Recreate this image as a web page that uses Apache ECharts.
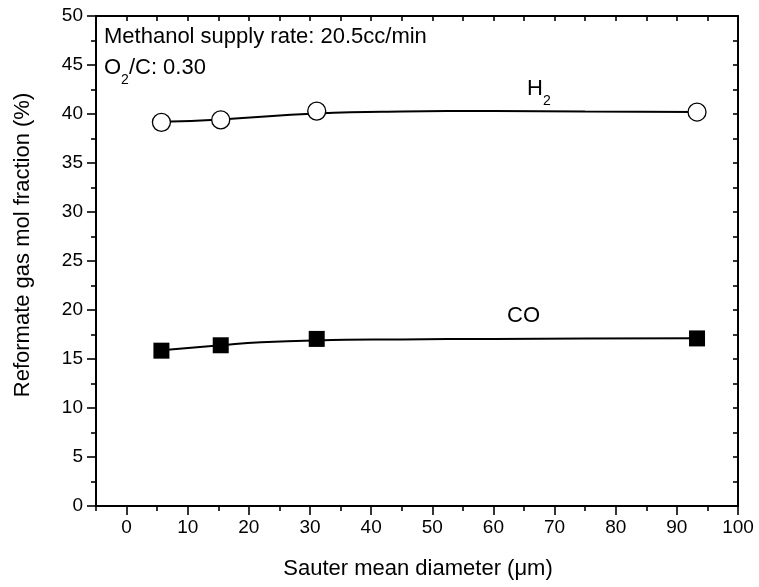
<!DOCTYPE html>
<html><head><meta charset="utf-8">
<script src="https://cdn.jsdelivr.net/npm/echarts@6/dist/echarts.min.js"></script>
<style>html,body{margin:0;padding:0;background:#fff}#c{width:759px;height:587px}</style>
</head><body><div id="c"></div>
<script>
// measured data points
const diameters = [5.7, 15.4, 31.1, 93.3];
const h2Values = [39.15, 39.4, 40.3, 40.2];
const coValues = [15.85, 16.4, 17.05, 17.1];
// fitted curves
const h2FitX = [5.7, 15.4, 31.1, 45, 60, 75, 93.3];
const h2FitY = [39.2, 39.45, 40.05, 40.25, 40.3, 40.25, 40.2];
const coFitX = [5.7, 15.4, 22, 31.1, 45, 60, 75, 93.3];
const coFitY = [15.9, 16.4, 16.7, 16.9, 17.0, 17.05, 17.08, 17.12];
const xMajorTicks = [0,10,20,30,40,50,60,70,80,90,100];
const xMinorTicks = [-5,5,15,25,35,45,55,65,75,85,95];
const yMajorTicks = [0,5,10,15,20,25,30,35,40,45,50];
const yMinorTicks = [2.5,7.5,12.5,17.5,22.5,27.5,32.5,37.5,42.5,47.5];
const xTitle = 'Sauter mean diameter (\u03bcm)';
const yTitle = 'Reformate gas mol fraction (%)';
const noteLine1 = 'Methanol supply rate: 20.5cc/min';
const noteLine2 = '{m|O}{s|2}{m|/C: 0.30}';
const h2Label = '{m|H}{s|2}';
const coLabel = 'CO';

const FONT = 'Liberation Sans, Arial, sans-serif';
const chart = echarts.init(document.getElementById('c'));
const zip = (a,b)=>a.map((v,i)=>[v,b[i]]);
const axLine = {show:true, onZero:false, lineStyle:{color:'#000', width:2}};
const noLine = {show:false, onZero:false};
const baseX = {type:'value', min:-5, max:100, splitLine:{show:false}};
const baseY = {type:'value', min:0, max:50, splitLine:{show:false}};
const tickStyle = {color:'#000', width:1.6};
const subRich = {
  m:{fontSize:22, fontFamily:FONT, lineHeight:26, verticalAlign:'top', color:'#000'},
  s:{fontSize:14, fontFamily:FONT, lineHeight:14, verticalAlign:'top', padding:[16,0,0,0], color:'#000'}
};
chart.setOption({
  animation:false,
  grid:{left:96, right:21, top:16, bottom:81},
  xAxis:[
    Object.assign({}, baseX, {position:'bottom', axisLine:axLine,
      axisTick:{show:true, inside:false, length:9, customValues:xMajorTicks, lineStyle:tickStyle},
      axisLabel:{show:true, customValues:xMajorTicks, color:'#000', fontSize:19, fontFamily:FONT, margin:12}}),
    Object.assign({}, baseX, {position:'bottom', axisLine:noLine,
      axisTick:{show:true, inside:false, length:5, customValues:xMinorTicks, lineStyle:tickStyle},
      axisLabel:{show:false}}),
    Object.assign({}, baseX, {position:'top', axisLine:axLine, interval:5,
      axisTick:{show:true, inside:true, length:5, lineStyle:tickStyle},
      axisLabel:{show:false}})
  ],
  yAxis:[
    Object.assign({}, baseY, {position:'left', axisLine:axLine,
      axisTick:{show:true, inside:false, length:9, customValues:yMajorTicks, lineStyle:tickStyle},
      axisLabel:{show:true, customValues:yMajorTicks, color:'#000', fontSize:19, fontFamily:FONT, margin:13}}),
    Object.assign({}, baseY, {position:'left', axisLine:noLine,
      axisTick:{show:true, inside:false, length:5, customValues:yMinorTicks, lineStyle:tickStyle},
      axisLabel:{show:false}}),
    Object.assign({}, baseY, {position:'right', axisLine:axLine, interval:2.5,
      axisTick:{show:true, inside:true, length:5, lineStyle:tickStyle},
      axisLabel:{show:false}})
  ],
  series:[
    {type:'line', smooth:true, showSymbol:false, data:zip(h2FitX,h2FitY), lineStyle:{color:'#000',width:2}, z:2},
    {type:'line', smooth:true, showSymbol:false, data:zip(coFitX,coFitY), lineStyle:{color:'#000',width:2}, z:2},
    {type:'scatter', data:zip(diameters,h2Values), symbol:'circle', symbolSize:18,
      itemStyle:{color:'#fff', borderColor:'#000', borderWidth:1.3, opacity:1}, z:3},
    {type:'scatter', data:zip(diameters,coValues), symbol:'rect', symbolSize:16,
      itemStyle:{color:'#000', opacity:1}, z:3}
  ],
  graphic:[
    {type:'text', x:104, y:37, style:{text:noteLine1, font:'22px '+FONT, fill:'#000', textVerticalAlign:'middle'}},
    {type:'text', x:104, y:57, style:{text:noteLine2, font:'22px '+FONT, fill:'#000', textVerticalAlign:'top', rich:subRich}},
    {type:'text', x:527, y:78, style:{text:h2Label, font:'22px '+FONT, fill:'#000', textVerticalAlign:'top', rich:subRich}},
    {type:'text', x:507, y:316, style:{text:coLabel, font:'22px '+FONT, fill:'#000', textVerticalAlign:'middle'}},
    {type:'text', x:418, y:569, style:{text:xTitle, font:'22px '+FONT, fill:'#000', textAlign:'center', textVerticalAlign:'middle'}},
    {type:'text', x:23, y:245, rotation:Math.PI/2, style:{text:yTitle, font:'22px '+FONT, fill:'#000', textAlign:'center', textVerticalAlign:'middle'}}
  ]
});
</script></body></html>
